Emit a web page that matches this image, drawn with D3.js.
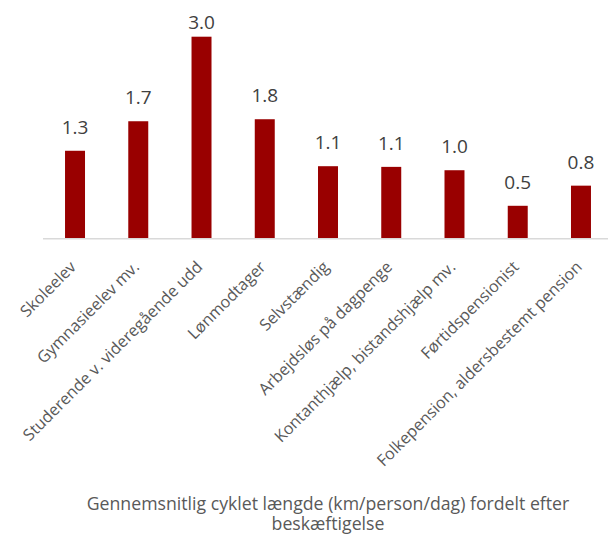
<!DOCTYPE html>
<html>
<head>
<meta charset="utf-8">
<script src="https://cdn.jsdelivr.net/npm/d3@7"></script>
<style>
  html, body { margin: 0; padding: 0; background: #fff; }
  svg { display: block; }
  text { font-family: "Open Sans", sans-serif; }
</style>
</head>
<body>
<svg id="chart" width="608" height="538"></svg>
<script>
const categories = [
  "Skoleelev",
  "Gymnasieelev mv.",
  "Studerende v. videregående udd",
  "Lønmodtager",
  "Selvstændig",
  "Arbejdsløs på dagpenge",
  "Kontanthjælp, bistandshjælp mv.",
  "Førtidspensionist",
  "Folkepension, aldersbestemt pension"
];
const values = [1.30, 1.74, 3.00, 1.77, 1.07, 1.06, 1.01, 0.48, 0.78];
const titleLines = [
  "Gennemsnitlig cyklet længde (km/person/dag) fordelt efter",
  "beskæftigelse"
];

const svg = d3.select("#chart");
const baseY = 238;

const x = d3.scaleBand()
  .domain(categories)
  .range([43.4, 612.6])
  .paddingInner(0.684)
  .paddingOuter(0.342);

const y = d3.scaleLinear()
  .domain([0, 3])
  .range([baseY, 36.7]);

const fmt = d3.format(".1f");

// bars
svg.append("g").selectAll("rect")
  .data(values)
  .join("rect")
  .attr("x", (d, i) => x(categories[i]))
  .attr("y", d => y(d))
  .attr("width", x.bandwidth())
  .attr("height", d => baseY - y(d))
  .attr("fill", "#990000");

// axis line
svg.append("line")
  .attr("x1", 43).attr("x2", 608)
  .attr("y1", baseY + 0.75).attr("y2", baseY + 0.75)
  .attr("stroke", "#d9d9d9")
  .attr("stroke-width", 1.5);

// value labels
svg.append("g").selectAll("text")
  .data(values)
  .join("text")
  .attr("x", (d, i) => x(categories[i]) + x.bandwidth() / 2)
  .attr("y", d => Math.max(y(d) - 17, 29))
  .attr("text-anchor", "middle")
  .attr("font-size", 19)
  .attr("fill", "#404040")
  .text(d => fmt(d));

// category labels
svg.append("g").selectAll("text")
  .data(categories)
  .join("text")
  .attr("transform", d => `translate(${x(d) + x.bandwidth() / 2 + 2},268) rotate(-45)`)
  .attr("text-anchor", "end")
  .attr("font-size", 16.2)
  .attr("fill", "#595959")
  .text(d => d);

// title
svg.append("g").selectAll("text")
  .data(titleLines)
  .join("text")
  .attr("x", 328)
  .attr("y", (d, i) => 510 + i * 20)
  .attr("text-anchor", "middle")
  .attr("font-size", 17.7)
  .attr("fill", "#595959")
  .text(d => d);
</script>
</body>
</html>
